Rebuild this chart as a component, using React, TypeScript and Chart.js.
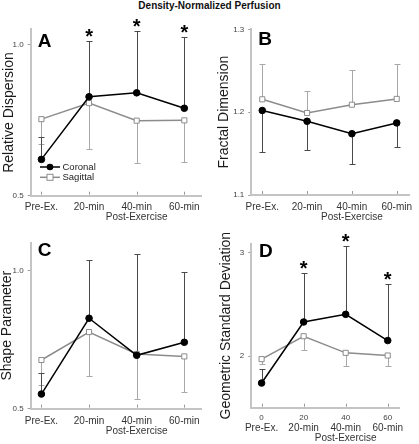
import React, { useEffect, useRef } from "react";
import { Chart, registerables } from "chart.js";

Chart.register(...registerables);

const W = 419;
const H = 444;
const FONT = "'Liberation Sans', Arial, Helvetica, sans-serif";
Chart.defaults.font.family = FONT;

// ---------- data ----------
const figureTitle = "Density-Normalized Perfusion";
const timePoints = [0, 20, 40, 60];
const timeNumbers = ["0", "20", "40", "60"];
const timeLabels = ["Pre-Ex.", "20-min", "40-min", "60-min"];
const timeAxisTitle = "Post-Exercise";
const seriesNames = ["Coronal", "Sagittal"];

// A: Relative Dispersion
const dispCoronal = [0.62, 0.827, 0.84, 0.789];
const dispCoronalSD = [0.695, 1.01, 1.045, 1.026];
const dispSagittal = [0.753, 0.806, 0.748, 0.749];
const dispSagittalSD = [0.67, 0.655, 0.608, 0.61];
const dispSignificant = [false, true, true, true];
const dispTicks = [0.5, 1.0];

// B: Fractal Dimension
const fractalCoronal = [1.202, 1.189, 1.174, 1.187];
const fractalCoronalSD = [1.152, 1.154, 1.137, 1.158];
const fractalSagittal = [1.2155, 1.199, 1.209, 1.216];
const fractalSagittalSD = [1.258, 1.2255, 1.251, 1.258];
const fractalSignificant = [false, false, false, false];
const fractalTicks = [1.1, 1.2, 1.3];

// C: Shape Parameter
const shapeCoronal = [0.553, 0.827, 0.693, 0.74];
const shapeCoronalSD = [0.63, 1.036, 1.06, 0.993];
const shapeSagittal = [0.676, 0.777, 0.698, 0.689];
const shapeSagittalSD = [0.587, 0.619, 0.536, 0.559];
const shapeSignificant = [false, false, false, false];
const shapeTicks = [0.5, 1.0];

// D: Geometric Standard Deviation
const gsdCoronal = [1.739, 2.331, 2.405, 2.151];
const gsdCoronalSD = [1.88, 2.807, 3.071, 2.695];
const gsdSagittal = [1.971, 2.193, 2.032, 2.006];
const gsdSagittalSD = [1.925, 2.061, 1.9, 1.903];
const gsdSignificant = [false, true, true, true];
const gsdTicks = [2, 3];

// ---------- panel layout ----------
type Panel = {
  letter: string;
  yTitle: string;
  coronal: number[];
  coronalSD: number[];
  sagittal: number[];
  sagittalSD: number[];
  stars: boolean[];
  yTicks: number[];
  decimals: number;
  yMin: number;
  yMax: number;
  xMin: number;
  xMax: number;
  box: { left: number; top: number; right: number; bottom: number };
  yAxisWidth: number;
  letterPos: { x: number; y: number };
  legend: boolean;
  numbers: boolean;
  xPad: number;
};

const panels: Panel[] = [
  {
    letter: "A", yTitle: "Relative Dispersion",
    coronal: dispCoronal, coronalSD: dispCoronalSD, sagittal: dispSagittal, sagittalSD: dispSagittalSD,
    stars: dispSignificant, yTicks: dispTicks, decimals: 1,
    yMin: 0.5, yMax: 1.05, xMin: -4.5, xMax: 67.3,
    box: { left: 30.7, top: 29.3, right: 201.7, bottom: 195.7 },
    yAxisWidth: 30.1, letterPos: { x: 37.7, y: 33.7 }, legend: true, numbers: false, xPad: 7,
  },
  {
    letter: "B", yTitle: "Fractal Dimension",
    coronal: fractalCoronal, coronalSD: fractalCoronalSD, sagittal: fractalSagittal, sagittalSD: fractalSagittalSD,
    stars: fractalSignificant, yTicks: fractalTicks, decimals: 1,
    yMin: 1.1, yMax: 1.3, xMin: -4.9, xMax: 65.6,
    box: { left: 251.3, top: 29.3, right: 419, bottom: 195 },
    yAxisWidth: 35.7, letterPos: { x: 258.3, y: 32 }, legend: false, numbers: false, xPad: 7,
  },
  {
    letter: "C", yTitle: "Shape Parameter",
    coronal: shapeCoronal, coronalSD: shapeCoronalSD, sagittal: shapeSagittal, sagittalSD: shapeSagittalSD,
    stars: shapeSignificant, yTicks: shapeTicks, decimals: 1,
    yMin: 0.5, yMax: 1.1, xMin: -4.5, xMax: 67.3,
    box: { left: 30.7, top: 242.7, right: 201.7, bottom: 408.7 },
    yAxisWidth: 31.6, letterPos: { x: 37.7, y: 242.5 }, legend: false, numbers: false, xPad: 8,
  },
  {
    letter: "D", yTitle: "Geometric Standard Deviation",
    coronal: gsdCoronal, coronalSD: gsdCoronalSD, sagittal: gsdSagittal, sagittalSD: gsdSagittalSD,
    stars: gsdSignificant, yTicks: gsdTicks, decimals: 0,
    yMin: 1.5, yMax: 3.09, xMin: -4.9, xMax: 65.6,
    box: { left: 251.3, top: 243.7, right: 419, bottom: 407.7 },
    yAxisWidth: 33.2, letterPos: { x: 259, y: 244 }, legend: false, numbers: true, xPad: 16,
  },
];

const XH = 36;
const CORONAL_COLOR = "#000000";
const SAGITTAL_COLOR = "#8c8c8c";
const CORONAL_BAR = "#4a4a4a";
const SAGITTAL_BAR = "#a8a8a8";
const AXIS_COLOR = "#c4c4c4";

function centeredBaseline(ctx: CanvasRenderingContext2D, text: string, centerY: number) {
  const m = ctx.measureText(text);
  return centerY + (m.actualBoundingBoxAscent - m.actualBoundingBoxDescent) / 2;
}

function makeConfig(p: Panel): any {
  const decorations = {
    id: "decorations" + p.letter,
    beforeDatasetsDraw(chart: any) {
      const ctx = chart.ctx as CanvasRenderingContext2D;
      const xs = chart.scales.x;
      const ys = chart.scales.y;
      ctx.save();
      ctx.lineWidth = 1;
      const bars: [number[], number[], string][] = [
        [p.sagittal, p.sagittalSD, SAGITTAL_BAR],
        [p.coronal, p.coronalSD, CORONAL_BAR],
      ];
      bars.forEach(([vals, sds, color]) => {
        ctx.strokeStyle = color;
        vals.forEach((v, i) => {
          const x = Math.round(xs.getPixelForValue(timePoints[i])) + 0.5;
          const y0 = ys.getPixelForValue(v);
          const y1 = Math.round(ys.getPixelForValue(sds[i])) + 0.5;
          ctx.beginPath();
          ctx.moveTo(x, y0);
          ctx.lineTo(x, y1);
          ctx.moveTo(x - 3, y1);
          ctx.lineTo(x + 3, y1);
          ctx.stroke();
        });
      });
      // inward x ticks
      ctx.strokeStyle = "#9a9a9a";
      const ab = chart.chartArea.bottom;
      timePoints.forEach((t) => {
        const x = Math.round(xs.getPixelForValue(t)) + 0.5;
        ctx.beginPath();
        ctx.moveTo(x, ab - 1);
        ctx.lineTo(x, ab - 4);
        ctx.stroke();
      });
      ctx.restore();
    },
    afterDraw(chart: any) {
      const ctx = chart.ctx as CanvasRenderingContext2D;
      const xs = chart.scales.x;
      const ys = chart.scales.y;
      ctx.save();
      // panel letter
      ctx.fillStyle = "#000";
      ctx.font = `bold 19px ${FONT}`;
      ctx.textAlign = "left";
      ctx.textBaseline = "alphabetic";
      const lm = ctx.measureText(p.letter);
      ctx.fillText(p.letter, p.letterPos.x, p.letterPos.y + lm.actualBoundingBoxAscent);
      // significance stars
      ctx.font = `bold 20px ${FONT}`;
      ctx.textAlign = "center";
      p.stars.forEach((s, i) => {
        if (!s) return;
        const x = xs.getPixelForValue(timePoints[i]);
        const cy = ys.getPixelForValue(p.coronalSD[i]) - 8;
        ctx.fillText("*", x, centeredBaseline(ctx, "*", cy));
      });
      // numeric time labels (D)
      if (p.numbers) {
        ctx.font = `8px ${FONT}`;
        ctx.fillStyle = "#444";
        ctx.textBaseline = "middle";
        timePoints.forEach((t, i) => {
          ctx.fillText(timeNumbers[i], xs.getPixelForValue(t), chart.chartArea.bottom + 10.5);
        });
      }
      // legend (A)
      if (p.legend) {
        const rows: [string, string, boolean][] = [
          [seriesNames[0], CORONAL_COLOR, true],
          [seriesNames[1], SAGITTAL_COLOR, false],
        ];
        const lx0 = 40, lx1 = 60, tx = 62.5;
        const ly = [167, 177.3];
        rows.forEach(([name, color, filled], k) => {
          const y = ly[k];
          ctx.strokeStyle = color;
          ctx.lineWidth = 1.5;
          ctx.beginPath();
          ctx.moveTo(lx0, y);
          ctx.lineTo(lx1, y);
          ctx.stroke();
          const cx = (lx0 + lx1) / 2;
          if (filled) {
            ctx.fillStyle = color;
            ctx.beginPath();
            ctx.arc(cx, y, 3.3, 0, Math.PI * 2);
            ctx.fill();
          } else {
            ctx.fillStyle = "#fff";
            ctx.lineWidth = 1;
            ctx.fillRect(cx - 3, y - 3, 6, 6);
            ctx.strokeRect(cx - 3, y - 3, 6, 6);
          }
          ctx.fillStyle = "#222";
          ctx.font = `9.5px ${FONT}`;
          ctx.textAlign = "left";
          ctx.textBaseline = "middle";
          ctx.fillText(name, tx, y + 0.5);
        });
      }
      ctx.restore();
    },
  };

  return {
    type: "line",
    data: {
      datasets: [
        {
          label: seriesNames[0],
          data: timePoints.map((t, i) => ({ x: t, y: p.coronal[i] })),
          borderColor: CORONAL_COLOR,
          backgroundColor: CORONAL_COLOR,
          borderWidth: 1.5,
          pointStyle: "circle",
          pointRadius: 3.3,
          pointBackgroundColor: CORONAL_COLOR,
          pointBorderColor: CORONAL_COLOR,
          pointBorderWidth: 1,
          tension: 0,
          order: 0,
        },
        {
          label: seriesNames[1],
          data: timePoints.map((t, i) => ({ x: t, y: p.sagittal[i] })),
          borderColor: SAGITTAL_COLOR,
          backgroundColor: "#ffffff",
          borderWidth: 1.5,
          pointStyle: "rect",
          pointRadius: 3.6,
          pointBackgroundColor: "#ffffff",
          pointBorderColor: SAGITTAL_COLOR,
          pointBorderWidth: 1,
          tension: 0,
          order: 1,
        },
      ],
    },
    options: {
      animation: false,
      responsive: false,
      devicePixelRatio: 1,
      events: [],
      layout: {
        autoPadding: false,
        padding: {
          left: p.box.left - p.yAxisWidth,
          top: p.box.top,
          right: W - p.box.right,
          bottom: H - p.box.bottom - XH,
        },
      },
      plugins: {
        legend: { display: false },
        tooltip: { enabled: false },
        title: { display: false },
      },
      scales: {
        x: {
          type: "linear",
          min: p.xMin,
          max: p.xMax,
          afterBuildTicks: (s: any) => {
            s.ticks = timePoints.map((v) => ({ value: v }));
          },
          afterFit: (s: any) => {
            s.height = XH;
          },
          grid: { display: true, drawOnChartArea: false, drawTicks: false },
          border: { display: true, color: AXIS_COLOR, width: 2 },
          ticks: {
            autoSkip: false,
            maxRotation: 0,
            minRotation: 0,
            padding: p.xPad,
            color: "#333",
            font: { size: 10, lineHeight: 1.0 },
            callback: (v: number) => {
              const i = timePoints.indexOf(v);
              if (i < 0) return "";
              return i === 2 ? [timeLabels[i], timeAxisTitle] : timeLabels[i];
            },
          },
        },
        y: {
          type: "linear",
          min: p.yMin,
          max: p.yMax,
          afterBuildTicks: (s: any) => {
            s.ticks = p.yTicks.map((v) => ({ value: v }));
          },
          afterFit: (s: any) => {
            s.width = p.yAxisWidth;
          },
          grid: { display: true, drawOnChartArea: false, drawTicks: true, tickLength: 3, color: "#999" },
          border: { display: true, color: AXIS_COLOR, width: 2 },
          ticks: {
            padding: 4,
            color: "#444",
            font: { size: 8 },
            callback: (v: number) => Number(v).toFixed(p.decimals),
          },
          title: {
            display: true,
            text: p.yTitle,
            color: "#1a1a1a",
            font: { size: 14, lineHeight: 1.2 },
            padding: 0,
          },
        },
      },
    },
    plugins: [decorations],
  };
}

function PanelCanvas({ panel }: { panel: Panel }) {
  const ref = useRef<HTMLCanvasElement | null>(null);
  useEffect(() => {
    if (!ref.current) return;
    const chart = new Chart(ref.current, makeConfig(panel));
    return () => chart.destroy();
  }, [panel]);
  return (
    <canvas
      ref={ref}
      width={W}
      height={H}
      style={{ position: "absolute", left: 0, top: 0, width: W, height: H }}
    />
  );
}

export default function App() {
  return (
    <div
      style={{
        position: "absolute",
        left: 0,
        top: 0,
        width: W,
        height: H,
        background: "#fff",
        overflow: "hidden",
      }}
    >
      <div
        style={{
          position: "absolute",
          left: 0,
          top: 0,
          width: W,
          textAlign: "center",
          font: `bold 10px ${FONT}`,
          lineHeight: "11px",
          color: "#111",
        }}
      >
        {figureTitle}
      </div>
      {panels.map((p) => (
        <PanelCanvas key={p.letter} panel={p} />
      ))}
    </div>
  );
}
